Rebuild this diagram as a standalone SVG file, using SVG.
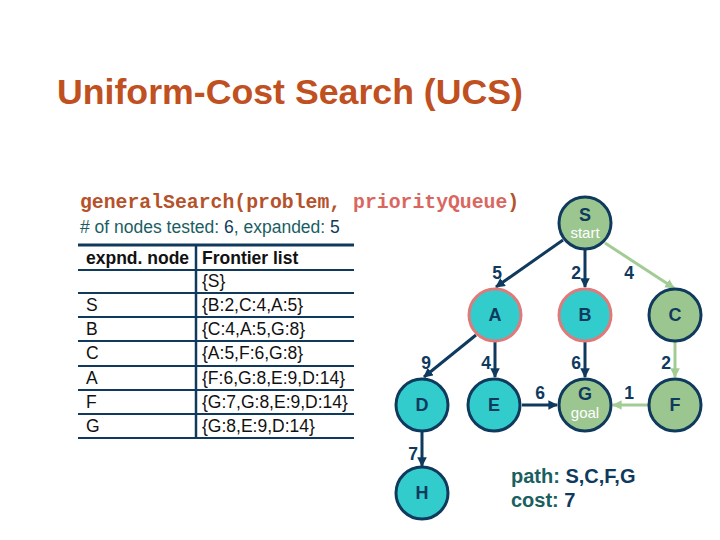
<svg xmlns="http://www.w3.org/2000/svg" width="720" height="540" viewBox="0 0 720 540">
<defs>
<marker id="ah" viewBox="0 0 10 10" refX="9" refY="5" markerWidth="3.2" markerHeight="3.2" orient="auto"><path d="M0,0 L10,5 L0,10 z" fill="#0f3a5e"/></marker>
<marker id="ahg" viewBox="0 0 10 10" refX="9" refY="5" markerWidth="3.2" markerHeight="3.2" orient="auto"><path d="M0,0 L10,5 L0,10 z" fill="#a3cc95"/></marker>
<style>
.t{font-family:"Liberation Sans",Arial,sans-serif}
.nd{stroke:#0f3a5e;stroke-width:3}
.teal{fill:#33cccc}
.grn{fill:#9cc68f}
.pk{stroke:#e07a7a}
.lbl{font-family:"Liberation Sans",Arial,sans-serif;font-weight:bold;font-size:18px;fill:#0f3a5e;text-anchor:middle}
.sub{font-family:"Liberation Sans",Arial,sans-serif;font-size:15px;fill:#ffffff;text-anchor:middle}
.e{stroke:#0f3a5e;stroke-width:3;fill:none;marker-end:url(#ah)}
.eg{stroke:#a3cc95;stroke-width:3;fill:none;marker-end:url(#ahg)}
.w{font-family:"Liberation Sans",Arial,sans-serif;font-weight:bold;font-size:17.5px;fill:#0f3a5e;text-anchor:middle}
.tb{font-family:"Liberation Sans",Arial,sans-serif;font-size:17.5px;fill:#111}
.ln{stroke:#0f3a5e;stroke-width:2}
</style>
</defs>
<rect width="720" height="540" fill="#ffffff"/>
<text x="57" y="104" class="t" font-size="35.7" font-weight="bold" fill="#c0501f">Uniform-Cost Search (UCS)</text>
<text x="80" y="208" font-family="'Liberation Mono','Courier New',monospace" font-size="19.8" font-weight="bold" fill="#b5522b">generalSearch(problem, <tspan fill="#d9675f">priorityQueue</tspan>)</text>
<text x="80" y="233" class="t" font-size="17.5" fill="#1a5e63"># of nodes tested: <tspan fill="#0f3a5e">6</tspan>, expanded: <tspan fill="#0f3a5e">5</tspan></text>
<g id="table">
<line x1="78" y1="245" x2="354" y2="245" stroke="#0f3a5e" stroke-width="3"/>
<line x1="78" y1="270" x2="354" y2="270" class="ln"/>
<line x1="78" y1="293" x2="354" y2="293" class="ln"/>
<line x1="78" y1="317" x2="354" y2="317" class="ln"/>
<line x1="78" y1="341" x2="354" y2="341" class="ln"/>
<line x1="78" y1="366" x2="354" y2="366" class="ln"/>
<line x1="78" y1="390" x2="354" y2="390" class="ln"/>
<line x1="78" y1="414" x2="354" y2="414" class="ln"/>
<line x1="78" y1="438" x2="354" y2="438" class="ln"/>
<line x1="196" y1="245" x2="196" y2="438" stroke="#0f3a5e" stroke-width="2.5"/>
<text x="86" y="264" class="tb" font-weight="bold">expnd. node</text>
<text x="202" y="264" class="tb" font-weight="bold">Frontier list</text>
<text x="202" y="287" class="tb">{S}</text>
<text x="86" y="311" class="tb">S</text><text x="202" y="311" class="tb">{B:2,C:4,A:5}</text>
<text x="86" y="335" class="tb">B</text><text x="202" y="335" class="tb">{C:4,A:5,G:8}</text>
<text x="86" y="359" class="tb">C</text><text x="202" y="359" class="tb">{A:5,F:6,G:8}</text>
<text x="86" y="384" class="tb">A</text><text x="202" y="384" class="tb">{F:6,G:8,E:9,D:14}</text>
<text x="86" y="408" class="tb">F</text><text x="202" y="408" class="tb">{G:7,G:8,E:9,D:14}</text>
<text x="86" y="432" class="tb">G</text><text x="202" y="432" class="tb">{G:8,E:9,D:14}</text>
</g>
<g id="edges">
<line x1="563" y1="240" x2="496" y2="287" class="e"/>
<line x1="585" y1="250" x2="585" y2="287" class="e"/>
<line x1="605" y1="243" x2="674" y2="288" class="eg"/>
<line x1="476" y1="335" x2="424" y2="377" class="e"/>
<line x1="495" y1="342" x2="495" y2="377" class="e"/>
<line x1="585" y1="342" x2="585" y2="377" class="e"/>
<line x1="675" y1="342" x2="675" y2="377" class="eg"/>
<line x1="522" y1="405" x2="557" y2="405" class="e"/>
<line x1="648" y1="405" x2="613" y2="405" class="eg"/>
<line x1="422" y1="432" x2="422" y2="466" class="e"/>
<text x="497" y="279" class="w">5</text>
<text x="576" y="279" class="w">2</text>
<text x="629" y="279" class="w">4</text>
<text x="426" y="369" class="w">9</text>
<text x="486" y="369" class="w">4</text>
<text x="576" y="369" class="w">6</text>
<text x="666" y="369" class="w">2</text>
<text x="540" y="399" class="w">6</text>
<text x="629" y="399" class="w">1</text>
<text x="413" y="460" class="w">7</text>
</g>
<g id="S"><circle cx="585" cy="223" r="26" class="nd grn"/><text x="585" y="221" class="lbl">S</text><text x="585" y="238" class="sub">start</text></g>
<g id="A"><circle cx="495" cy="315" r="26" class="nd teal pk"/><text x="495" y="321" class="lbl">A</text></g>
<g id="B"><circle cx="585" cy="315" r="26" class="nd teal pk"/><text x="585" y="321" class="lbl">B</text></g>
<g id="C"><circle cx="675" cy="315" r="26" class="nd grn"/><text x="675" y="321" class="lbl">C</text></g>
<g id="D"><circle cx="422" cy="405" r="26" class="nd teal"/><text x="422" y="411" class="lbl">D</text></g>
<g id="E"><circle cx="494" cy="405" r="26" class="nd teal"/><text x="494" y="411" class="lbl">E</text></g>
<g id="G"><circle cx="585" cy="405" r="26" class="nd grn"/><text x="585" y="400" class="lbl">G</text><text x="585" y="418" class="sub">goal</text></g>
<g id="F"><circle cx="675" cy="405" r="26" class="nd grn"/><text x="675" y="411" class="lbl">F</text></g>
<g id="H"><circle cx="422" cy="493" r="26" class="nd teal"/><text x="422" y="499" class="lbl">H</text></g>
<text x="511" y="483" class="t" font-size="20" font-weight="bold" fill="#1a6060">path: <tspan fill="#0f3a5e">S,C,F,G</tspan></text>
<text x="511" y="507" class="t" font-size="20" font-weight="bold" fill="#1a6060">cost: <tspan fill="#0f3a5e">7</tspan></text>
</svg>
